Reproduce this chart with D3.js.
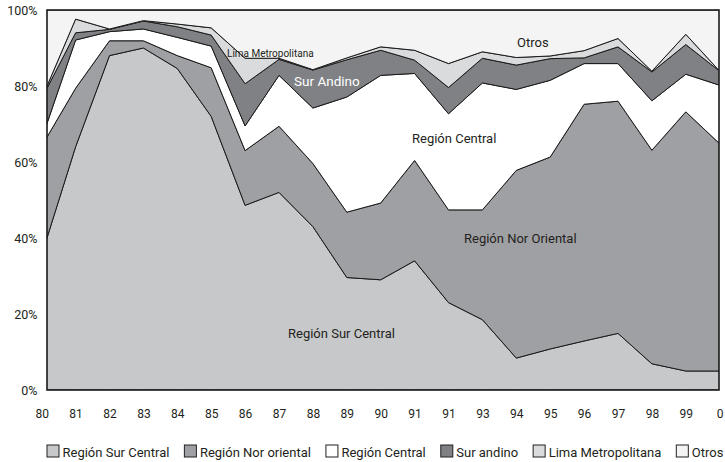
<!DOCTYPE html>
<html>
<head>
<meta charset="utf-8">
<script src="https://cdn.jsdelivr.net/npm/d3@7"></script>
<style>
  html, body { margin: 0; padding: 0; background: #fff; }
  svg { display: block; font-family: Roboto, "Open Sans", sans-serif; }
</style>
</head>
<body>
<svg id="chart" width="725" height="462"></svg>
<script>
// ---- data (percent shares per year) ----
const years = ["80","81","82","83","84","85","86","87","88","89","90","91","91","93","94","95","96","97","98","99","0"];

const surCentral  = [35.6, 64.0, 88.0, 90.0, 84.6, 72.0, 48.6, 52.0, 43.0, 29.6, 29.0, 34.0, 23.0, 18.5,  8.4, 10.8, 12.9, 14.9,  6.9,  5.0,  5.0];
const norOriental = [28.6, 15.4,  3.9,  1.9,  3.4, 12.8, 14.4, 17.4, 16.6, 17.2, 20.2, 26.4, 24.4, 28.9, 49.4, 50.5, 62.3, 61.1, 56.2, 68.2, 59.8];
const central     = [ 1.9, 12.7,  2.4,  3.1,  4.8,  5.7,  6.5, 13.4, 14.6, 30.3, 33.6, 22.9, 25.3, 33.4, 21.3, 20.2, 10.7,  9.9, 13.0,  9.9, 15.4];
const surAndino   = [10.6,  1.9,  0.6,  2.1,  2.8,  2.9, 11.1,  4.2, 10.0,  9.8,  6.6,  3.5,  6.9,  6.5,  6.4,  5.7,  1.5,  4.4,  7.6,  7.8,  3.7];
const lima        = [ 0.0,  3.6,  0.1,  0.1,  0.7,  1.9,  6.7,  0.3,  0.1,  0.5,  0.9,  2.6,  6.3,  1.7,  2.0,  0.7,  1.9,  2.2,  0.2,  2.7,  0.0];
const otros       = [23.3,  2.4,  5.0,  2.8,  3.7,  4.7, 12.7, 12.7, 15.7, 12.6,  9.7, 10.6, 14.1, 11.0, 12.5, 12.1, 10.7,  7.5, 16.1,  6.4, 16.1];

const seriesKeys   = ["surCentral","norOriental","central","surAndino","lima","otros"];
const legendNames  = ["Región Sur Central","Región Nor oriental","Región Central","Sur andino","Lima Metropolitana","Otros"];
const seriesColors = ["#c7c8ca","#9fa0a4","#ffffff","#808184","#dadbdd","#f4f4f4"];

// ---- layout ----
const plot = { left: 47, right: 719, top: 10, bottom: 390 };
const svg = d3.select("#chart");

const rows = years.map((y, i) => ({
  i,
  surCentral: surCentral[i], norOriental: norOriental[i], central: central[i],
  surAndino: surAndino[i], lima: lima[i], otros: otros[i]
}));

const x = d3.scalePoint().domain(d3.range(years.length)).range([41.7, 719.7]);
const y = d3.scaleLinear().domain([0, 1]).range([plot.bottom, plot.top]);

const stacked = d3.stack().keys(seriesKeys).offset(d3.stackOffsetExpand)(rows);

svg.append("defs").append("clipPath").attr("id", "plotClip")
  .append("rect")
  .attr("x", plot.left).attr("y", plot.top)
  .attr("width", plot.right - plot.left).attr("height", plot.bottom - plot.top);

const area = d3.area()
  .x(d => x(d.data.i))
  .y0(d => y(d[0]))
  .y1(d => y(d[1]))
  .curve(d3.curveLinear);

const g = svg.append("g").attr("clip-path", "url(#plotClip)");
g.selectAll("path.layer")
  .data(stacked)
  .join("path")
  .attr("class", "layer")
  .attr("d", area)
  .attr("fill", (d, i) => seriesColors[i])
  .attr("stroke", "#1a1a1a")
  .attr("stroke-width", 1)
  .attr("stroke-linejoin", "round");

// frame
svg.append("rect")
  .attr("x", plot.left).attr("y", plot.top)
  .attr("width", plot.right - plot.left).attr("height", plot.bottom - plot.top)
  .attr("fill", "none").attr("stroke", "#1a1a1a").attr("stroke-width", 1.6);

// axes
const yAxis = d3.axisLeft(y).tickValues([0, 0.2, 0.4, 0.6, 0.8, 1]).tickFormat(d3.format(".0%"))
  .tickSize(0).tickPadding(9.5);
const ya = svg.append("g").attr("transform", `translate(${plot.left},0)`).call(yAxis);
ya.select(".domain").remove();
ya.selectAll("text").attr("font-size", 12.5).attr("fill", "#231f20").attr("font-family", "Roboto, sans-serif");

const xAxis = d3.axisBottom(x).tickFormat(i => years[i]).tickSize(0).tickPadding(19);
const xa = svg.append("g").attr("transform", `translate(0,${plot.bottom})`).call(xAxis);
xa.select(".domain").remove();
xa.selectAll("text").attr("font-size", 12).attr("fill", "#231f20").attr("font-family", "Roboto, sans-serif");

// annotations inside plot
const notes = [
  { t: "Otros", x: 517, y: 47, s: 13, c: "#231f20" },
  { t: "Lima Metropolitana", x: 227, y: 57, s: 10, c: "#231f20" },
  { t: "Sur Andino", x: 294, y: 86, s: 13.5, c: "#ffffff" },
  { t: "Región Central", x: 412, y: 143, s: 13, c: "#231f20" },
  { t: "Región Nor Oriental", x: 464, y: 243, s: 13, c: "#231f20" },
  { t: "Región Sur Central", x: 288, y: 338, s: 13, c: "#231f20" }
];
svg.append("g").selectAll("text").data(notes).join("text")
  .attr("x", d => d.x).attr("y", d => d.y)
  .attr("font-size", d => d.s).attr("fill", d => d.c)
  .text(d => d.t);

// legend
const lg = svg.append("g");
let lx = 47;
legendNames.forEach((name, i) => {
  lg.append("rect")
    .attr("x", lx).attr("y", 445).attr("width", 12).attr("height", 12)
    .attr("fill", seriesColors[i]).attr("stroke", "#231f20").attr("stroke-width", 1);
  const t = lg.append("text")
    .attr("x", lx + 15.5).attr("y", 456.5)
    .attr("font-size", 13).attr("fill", "#231f20")
    .text(name);
  lx += 15.5 + t.node().getComputedTextLength() + 15;
});
</script>
</body>
</html>
